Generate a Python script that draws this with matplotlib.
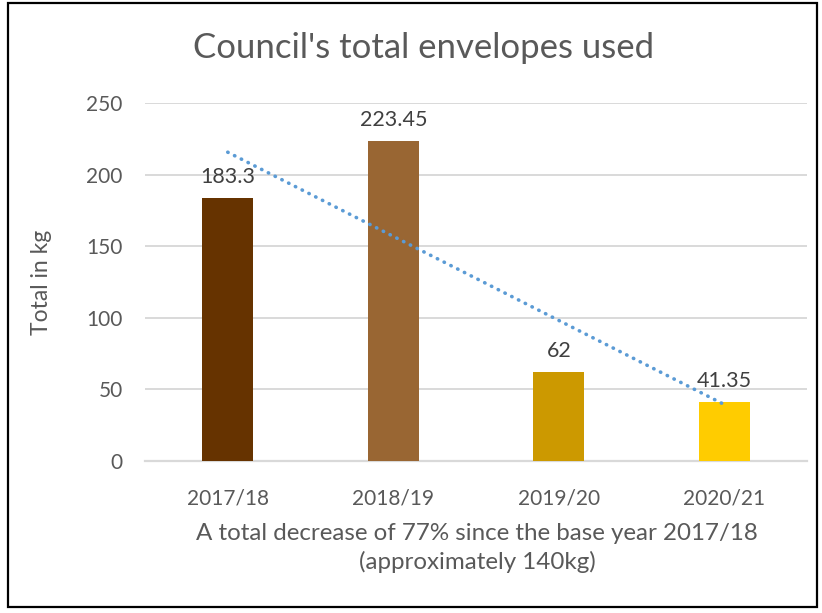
import numpy as np
import matplotlib.pyplot as plt
from matplotlib.patches import Rectangle

years = ["2017/18", "2018/19", "2019/20", "2020/21"]
totals_kg = [183.3, 223.45, 62, 41.35]
bar_colors = ["#663300", "#996633", "#CC9900", "#FFCC00"]
y_ticks = [0, 50, 100, 150, 200, 250]

text_grey = "#595959"
grid_grey = "#D9D9D9"
plt.rcParams["font.family"] = ["Lato", "DejaVu Sans"]

fig = plt.figure(figsize=(8.22, 6.13), dpi=100)
ax = fig.add_axes([0.1764, 0.2480, 0.8054, 0.5840])

x = np.arange(len(years))
ax.bar(x, totals_kg, width=0.31, color=bar_colors, zorder=3)

# data labels above each bar
for xi, v in zip(x, totals_kg):
    ax.annotate(f"{v:g}", (xi, v), xytext=(0, 8), textcoords="offset points",
                ha="center", va="bottom", fontsize=15.5, color="#404040", zorder=5)

# linear trendline through the four totals
slope, intercept = np.polyfit(x, totals_kg, 1)
ax.plot(x, slope * x + intercept, color="#5B9BD5", linewidth=2.6,
        linestyle=(0, (0.1, 2.0)), dash_capstyle="round", zorder=4)

ax.set_xlim(-0.5, len(years) - 0.5)
ax.set_ylim(0, 250)
ax.set_yticks(y_ticks)
ax.set_xticks(x)
ax.set_xticklabels(years)
ax.yaxis.grid(True, color=grid_grey, linewidth=1.4, zorder=0)
ax.set_axisbelow(True)
for side in ["top", "right", "left"]:
    ax.spines[side].set_visible(False)
ax.spines["bottom"].set_color(grid_grey)
ax.spines["bottom"].set_linewidth(1.6)
ax.tick_params(axis="both", length=0, labelsize=15, labelcolor=text_grey)
ax.tick_params(axis="y", pad=16)
ax.tick_params(axis="x", pad=20)

ax.set_ylabel("Total in kg", fontsize=16.5, color=text_grey)
ax.yaxis.set_label_coords(-0.140, 0.5)
fig.text(0.5803, 0.1060, "A total decrease of 77% since the base year 2017/18\n(approximately 140kg)",
         ha="center", va="center", fontsize=17.4, color=text_grey, linespacing=1.4)
fig.text(0.5155, 0.921, "Council's total envelopes used", ha="center", va="center",
         fontsize=25, color=text_grey)

# chart frame
fig.patches.append(Rectangle((0.0097, 0.0098), 0.984, 0.985, transform=fig.transFigure,
                             fill=False, edgecolor="black", linewidth=1.6))

fig.savefig("out.png", dpi=100)
